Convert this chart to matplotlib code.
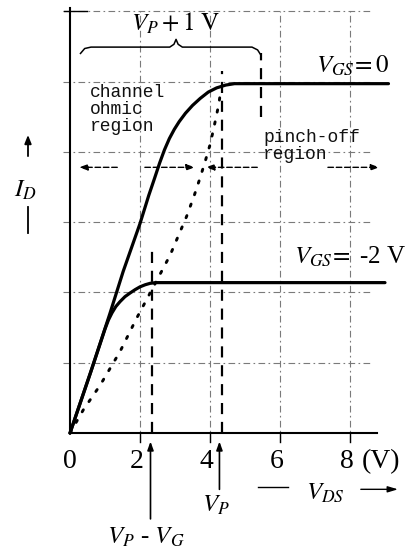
import matplotlib
matplotlib.use("Agg")
import matplotlib.pyplot as plt

plt.rcParams["mathtext.fontset"] = "stix"

# --- JFET output characteristics ---
VDS_GS0 = [0, 0.6, 1.14, 1.52, 2.0, 2.25, 2.42, 2.56, 2.7, 2.84, 2.98, 3.12,
           3.3, 3.5, 3.72, 3.95, 4.19, 4.45, 4.7, 9.1]
ID_GS0 = [0, 0.88, 1.7, 2.3, 2.98, 3.38, 3.63, 3.84, 4.03, 4.19, 4.32, 4.43,
          4.55, 4.66, 4.76, 4.85, 4.91, 4.95, 4.97, 4.97]

VDS_GS2 = [0, 0.6, 1.0, 1.1, 1.2, 1.31, 1.43, 1.57, 1.71, 1.86, 2.0, 2.15,
           2.29, 2.45, 9.0]
ID_GS2 = [0, 0.88, 1.48, 1.61, 1.71, 1.8, 1.87, 1.94, 1.99, 2.04, 2.08, 2.11,
          2.13, 2.14, 2.14]

# pinch-off locus (dotted)
VDS_LOCUS = [0, 0.38, 0.86, 1.43, 1.9, 2.33, 2.86, 3.33, 3.55, 3.71, 3.86, 4.0,
             4.1, 4.19, 4.26, 4.3]
ID_LOCUS = [0, 0.33, 0.68, 1.16, 1.63, 2.03, 2.53, 3.08, 3.38, 3.62, 3.86, 4.1,
            4.32, 4.53, 4.7, 4.86]

X_TICKS = [0, 2, 4, 6, 8]
X_TICK_LABELS = ["0", "2", "4", "6", "8"]
Y_GRID = [1, 2, 3, 4, 5, 6]

VP = 4.35          # pinch-off voltage at VGS = 0
VP_MINUS_VG = 2.33 # pinch-off voltage at VGS = -2 V
VP_PLUS_1 = 5.45

fig = plt.figure(figsize=(4.09, 5.54), dpi=100)
ax = fig.add_axes([0, 0, 1, 1])
ax.set_xlim(-2.0, 9.686)
ax.set_ylim(-1.72, 6.16)
ax.axis("off")

grid_kw = dict(color="#7a7a7a", lw=0.8, ls=(0, (6, 3, 1.5, 3)), zorder=1)
for y in Y_GRID:
    ax.plot([-0.2, 8.6], [y, y], **grid_kw)
for x in X_TICKS[1:]:
    ax.plot([x, x], [-0.13, 6.0], **grid_kw)

# axes
ax.plot([0, 0], [0, 6.05], color="black", lw=1.5, zorder=3)
ax.plot([0, 8.77], [0, 0], color="black", lw=1.5, zorder=3)
ax.plot([-0.18, 0.5], [6.0, 6.0], color="black", lw=1.0, zorder=3)

# pinch-off markers
dash_kw = dict(color="black", lw=1.6, ls=(0, (5, 3.5)), zorder=2)
ax.plot([VP_MINUS_VG, VP_MINUS_VG], [0, 2.6], **dash_kw)
ax.plot([VP, VP], [0, 5.15], **dash_kw)
ax.plot([VP_PLUS_1, VP_PLUS_1], [4.5, 5.4], **dash_kw)

# curves
ax.plot(VDS_LOCUS, ID_LOCUS, color="black", lw=2.1, ls=(0, (0.8, 3.4)),
        dash_capstyle="round", zorder=4)
ax.plot(VDS_GS0, ID_GS0, color="black", lw=2.3, solid_joinstyle="round",
        solid_capstyle="round", zorder=5)
ax.plot(VDS_GS2, ID_GS2, color="black", lw=2.3, solid_joinstyle="round",
        solid_capstyle="round", zorder=5)

# brace over VP + 1 V
by = 5.49
brace_x = [0.3, 0.42, 0.6, 2.85, 2.97, 3.03, 3.09, 3.21, 5.2, 5.36, 5.45]
brace_y = [5.4, 5.47, by, by, 5.53, 5.6, 5.53, by, by, 5.45, 5.38]
ax.plot(brace_x, brace_y, color="black", lw=1.1, solid_joinstyle="round", zorder=3)

serif = "Liberation Serif"
ax.text(3.03, 5.83, r"$V_P + 1\ \mathrm{V}$", fontsize=18, ha="center", va="center")
ax.text(8.06, 5.22, r"$V_{GS}\!=0$", fontsize=18, ha="center", va="center")
ax.text(8.0, 2.5, r"$V_{GS}\!=$ -2 V", fontsize=18, family=serif,
        ha="center", va="center")

mono = "Liberation Mono"
ax.text(0.58, 4.97, "channel\nohmic\nregion", fontsize=13, family=mono,
        ha="left", va="top", linespacing=1.0, color="#111111")
ax.text(5.52, 4.32, "pinch-off\nregion", fontsize=13, family=mono,
        ha="left", va="top", linespacing=1.0, color="#111111")

# region arrows
arr_y = 3.78
def region_arrow(x0, x1):
    ax.annotate("", xy=(x1, arr_y), xytext=(x0, arr_y),
                arrowprops=dict(arrowstyle="-|>,head_length=0.5,head_width=0.18",
                                color="black", lw=1.0, ls=(0, (4, 2))))
region_arrow(1.43, 0.18)
region_arrow(2.06, 3.65)
region_arrow(5.43, 3.8)
region_arrow(7.29, 8.92)

# y-axis label
ax.annotate("", xy=(-1.2, 4.28), xytext=(-1.2, 3.9),
            arrowprops=dict(arrowstyle="-|>,head_length=0.5,head_width=0.2",
                            color="black", lw=1.3))
ax.text(-1.27, 3.46, r"$I_D$", fontsize=18, ha="center", va="center")
ax.plot([-1.2, -1.2], [2.85, 3.22], color="black", lw=1.3)

# x ticks and labels
for x, lab in zip(X_TICKS, X_TICK_LABELS):
    if x > 0:
        ax.plot([x, x], [0, -0.13], color="black", lw=1.0)
    ax.text(x - (0.1 if x else 0), -0.41, lab, fontsize=20, family=serif,
            ha="center", va="center")
ax.text(8.88, -0.41, "(V)", fontsize=20, family=serif, ha="center", va="center")

ax.plot([5.37, 6.23], [-0.77, -0.77], color="black", lw=1.0)
ax.text(7.29, -0.85, r"$V_{DS}$", fontsize=18, ha="center", va="center")
ax.annotate("", xy=(9.45, -0.8), xytext=(8.23, -0.8),
            arrowprops=dict(arrowstyle="-|>,head_length=0.6,head_width=0.18",
                            color="black", lw=1.0))

# pinch-off voltage pointers
ax.annotate("", xy=(VP - 0.08, -0.08), xytext=(VP - 0.08, -0.84),
            arrowprops=dict(arrowstyle="-|>,head_length=0.5,head_width=0.18",
                            color="black", lw=1.2))
ax.text(4.17, -1.03, r"$V_P$", fontsize=18, ha="center", va="center")
ax.annotate("", xy=(VP_MINUS_VG - 0.03, -0.08), xytext=(VP_MINUS_VG - 0.03, -1.26),
            arrowprops=dict(arrowstyle="-|>,head_length=0.5,head_width=0.18",
                            color="black", lw=1.2))
ax.text(2.17, -1.48, r"$V_P$ - $V_G$", fontsize=18, family=serif,
        ha="center", va="center")

fig.savefig("out.png", dpi=100, facecolor="white")
